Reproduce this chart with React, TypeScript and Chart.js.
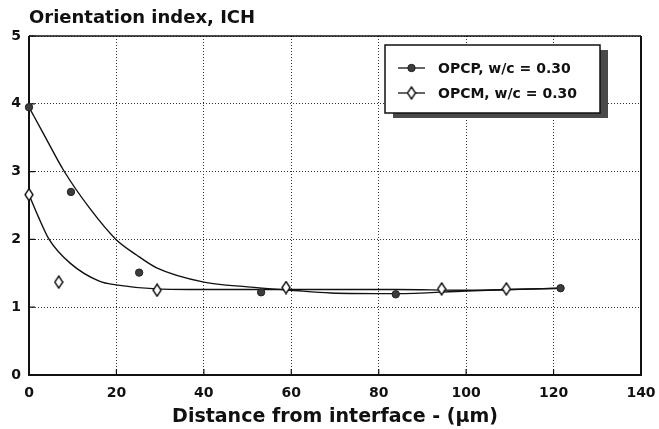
import React, { useEffect, useRef } from "react";
import { Chart, registerables } from "chart.js";

Chart.register(...registerables);

const chartTitle = "Orientation index, ICH";
const xAxisTitle = "Distance from interface - (μm)";
const xTickValues = [0, 20, 40, 60, 80, 100, 120, 140];
const yTickValues = [0, 1, 2, 3, 4, 5];

const opcpLabel = "OPCP, w/c = 0.30";
const opcpX = [0, 9.6, 25.2, 53.1, 83.9, 121.6];
const opcpY = [3.95, 2.7, 1.51, 1.22, 1.19, 1.28];

const opcmLabel = "OPCM, w/c = 0.30";
const opcmX = [0, 6.8, 29.3, 58.8, 94.4, 109.2];
const opcmY = [2.66, 1.37, 1.25, 1.29, 1.27, 1.27];

const opcpFitX = [0, 3.3, 7.9, 14, 19.9, 24.6, 29.2, 40, 50, 60, 69, 84, 100, 110, 121.6];
const opcpFitY = [3.95, 3.56, 3.02, 2.45, 2.0, 1.77, 1.58, 1.37, 1.3, 1.25, 1.21, 1.2, 1.24, 1.26, 1.28];

const opcmFitX = [0, 2.1, 4.6, 9.4, 16.2, 19.9, 29.2, 40, 60, 69, 84, 100, 110, 121.6];
const opcmFitY = [2.66, 2.34, 2.0, 1.65, 1.38, 1.33, 1.27, 1.26, 1.26, 1.26, 1.26, 1.25, 1.26, 1.28];

const FONT = "'DejaVu Sans', sans-serif";
const INK = "#111";

const pts = (xs: number[], ys: number[]) => xs.map((x, i) => ({ x, y: ys[i] }));

function makeDiamond(): HTMLCanvasElement {
  const c = document.createElement("canvas");
  c.width = 10;
  c.height = 14;
  const d = c.getContext("2d")!;
  d.beginPath();
  d.moveTo(5, 1);
  d.lineTo(9, 7);
  d.lineTo(5, 13);
  d.lineTo(1, 7);
  d.closePath();
  d.fillStyle = "#fff";
  d.fill();
  d.lineWidth = 1.4;
  d.strokeStyle = INK;
  d.stroke();
  return c;
}

const framePlugin = {
  id: "frame",
  beforeDatasetsDraw(chart: any) {
    const { ctx, chartArea, scales } = chart;
    const { left, right, top, bottom } = chartArea;
    ctx.save();
    ctx.strokeStyle = INK;
    ctx.lineWidth = 1.2;
    ctx.beginPath();
    xTickValues.forEach((v) => {
      const px = scales.x.getPixelForValue(v);
      ctx.moveTo(px, bottom);
      ctx.lineTo(px, bottom - 6);
    });
    yTickValues.forEach((v) => {
      const py = scales.y.getPixelForValue(v);
      ctx.moveTo(left, py);
      ctx.lineTo(left + 6, py);
    });
    ctx.stroke();
    ctx.lineWidth = 2;
    ctx.beginPath();
    ctx.moveTo(left, top);
    ctx.lineTo(left, bottom);
    ctx.lineTo(right, bottom);
    ctx.lineTo(right, top);
    ctx.stroke();
    ctx.lineWidth = 1.5;
    ctx.beginPath();
    ctx.moveTo(left, top);
    ctx.lineTo(right, top);
    ctx.stroke();
    ctx.restore();
  },
};

const boxLegendPlugin = {
  id: "boxLegend",
  afterDraw(chart: any) {
    const { ctx, chartArea } = chart;
    const bx = chartArea.left + 356;
    const by = chartArea.top + 9;
    const bw = 215;
    const bh = 68;
    ctx.save();
    ctx.fillStyle = "#4a4a4a";
    ctx.fillRect(bx + 8, by + 5, bw, bh);
    ctx.fillStyle = "#fff";
    ctx.fillRect(bx, by, bw, bh);
    ctx.strokeStyle = INK;
    ctx.lineWidth = 1.5;
    ctx.strokeRect(bx, by, bw, bh);
    const entries = chart.data.datasets.filter((ds: any) => ds.legendEntry);
    entries.forEach((ds: any, i: number) => {
      const cy = by + 23 + i * 25;
      ctx.strokeStyle = INK;
      ctx.lineWidth = 1.3;
      ctx.beginPath();
      ctx.moveTo(bx + 13, cy);
      ctx.lineTo(bx + 40, cy);
      ctx.stroke();
      const mx = bx + 26.5;
      if (typeof ds.pointStyle === "object") {
        const img = ds.pointStyle as HTMLCanvasElement;
        ctx.drawImage(img, mx - img.width / 2, cy - img.height / 2);
      } else {
        ctx.beginPath();
        ctx.arc(mx, cy, ds.pointRadius, 0, Math.PI * 2);
        ctx.fillStyle = ds.pointBackgroundColor;
        ctx.fill();
        ctx.strokeStyle = ds.pointBorderColor;
        ctx.lineWidth = 1;
        ctx.stroke();
      }
      ctx.fillStyle = INK;
      ctx.font = `bold 14px ${FONT}`;
      ctx.textAlign = "left";
      ctx.textBaseline = "middle";
      ctx.fillText(ds.label, bx + 53, cy + 1);
    });
    ctx.restore();
  },
};

export default function App() {
  const ref = useRef<HTMLCanvasElement>(null);

  useEffect(() => {
    const canvas = ref.current;
    if (!canvas) return;
    const diamond = makeDiamond();

    const chart = new Chart(canvas, {
      type: "scatter",
      data: {
        datasets: [
          {
            label: opcpLabel,
            data: pts(opcpX, opcpY),
            showLine: false,
            pointStyle: "circle",
            pointRadius: 3.7,
            pointBackgroundColor: "#3c3c3c",
            pointBorderColor: "#222",
            pointBorderWidth: 1,
            clip: false,
            order: 0,
            legendEntry: true,
          } as any,
          {
            label: opcmLabel,
            data: pts(opcmX, opcmY),
            showLine: false,
            pointStyle: diamond,
            pointRadius: 6,
            clip: false,
            order: 0,
            legendEntry: true,
          } as any,
          {
            label: "OPCP fit",
            data: pts(opcpFitX, opcpFitY),
            showLine: true,
            pointRadius: 0,
            borderColor: INK,
            borderWidth: 1.4,
            cubicInterpolationMode: "monotone",
            order: 1,
          } as any,
          {
            label: "OPCM fit",
            data: pts(opcmFitX, opcmFitY),
            showLine: true,
            pointRadius: 0,
            borderColor: INK,
            borderWidth: 1.4,
            cubicInterpolationMode: "monotone",
            order: 1,
          } as any,
        ],
      },
      options: {
        responsive: false,
        animation: false,
        events: [],
        layout: { padding: { left: 0, right: 18, top: 0, bottom: 0 } },
        font: { family: FONT },
        plugins: {
          legend: { display: false },
          tooltip: { enabled: false },
          title: {
            display: true,
            text: chartTitle,
            align: "start",
            fullSize: false,
            color: INK,
            font: { family: FONT, size: 18, weight: "bold" },
            padding: { top: 8, bottom: 6.4 },
          },
        },
        scales: {
          x: {
            type: "linear",
            min: 0,
            max: 140,
            afterBuildTicks: (s: any) => {
              s.ticks = xTickValues.map((v) => ({ value: v }));
            },
            afterFit: (s: any) => {
              s.height = 54;
              s.paddingLeft = 0;
              s.paddingRight = 0;
            },
            grid: { color: "#333", lineWidth: 1, drawTicks: false },
            border: { display: false, dash: [1, 2] },
            ticks: {
              autoSkip: false,
              maxRotation: 0,
              color: INK,
              padding: 10,
              font: { family: FONT, size: 14, weight: "bold" },
            },
            title: {
              display: true,
              text: xAxisTitle,
              color: INK,
              font: { family: FONT, size: 19, weight: "bold" },
              padding: { top: 0, bottom: 1 },
            },
          },
          y: {
            type: "linear",
            min: 0,
            max: 5,
            afterBuildTicks: (s: any) => {
              s.ticks = yTickValues.map((v) => ({ value: v }));
            },
            afterFit: (s: any) => {
              s.width = 29;
              s.paddingTop = 0;
              s.paddingBottom = 0;
            },
            grid: { color: "#333", lineWidth: 1, drawTicks: false },
            border: { display: false, dash: [1, 2] },
            ticks: {
              autoSkip: false,
              color: INK,
              padding: 8,
              font: { family: FONT, size: 14, weight: "bold" },
            },
          },
        },
      } as any,
      plugins: [framePlugin, boxLegendPlugin],
    });

    return () => chart.destroy();
  }, []);

  return (
    <div style={{ position: "fixed", left: 0, top: 0, width: 659, height: 429, background: "#fff" }}>
      <canvas ref={ref} width={659} height={429} style={{ display: "block" }} />
    </div>
  );
}
